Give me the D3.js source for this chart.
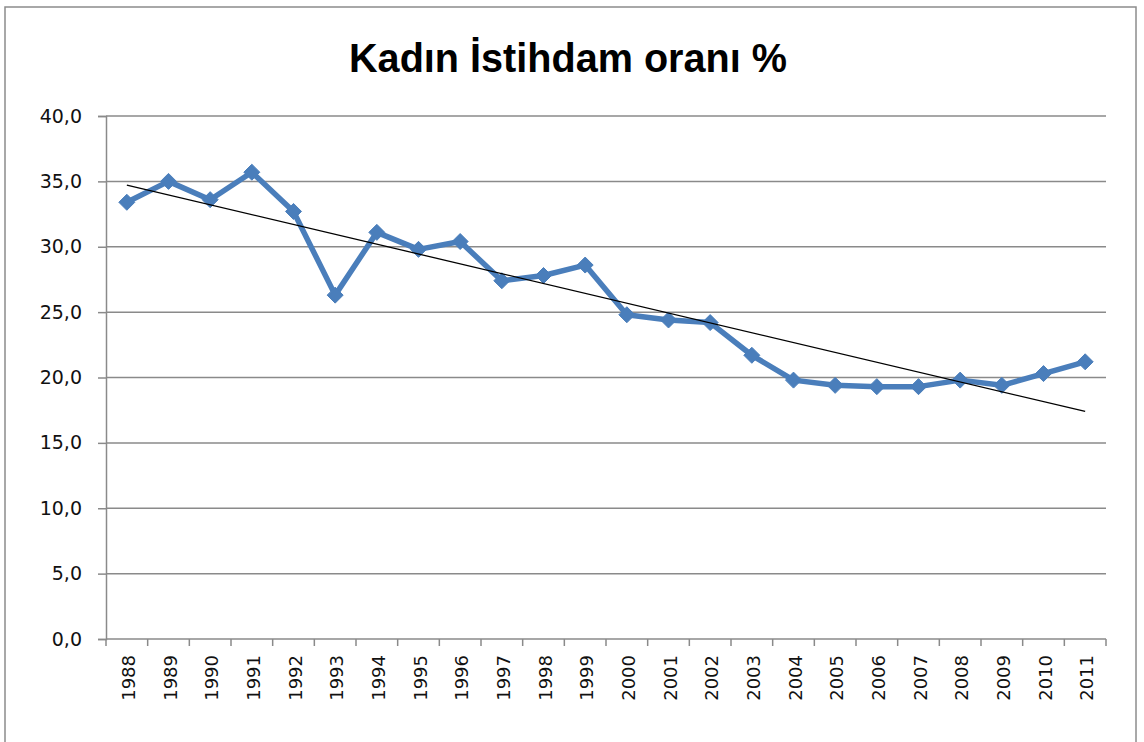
<!DOCTYPE html>
<html><head><meta charset="utf-8">
<script src="https://cdn.jsdelivr.net/npm/d3@7"></script>
<style>body{margin:0;background:#fff;}svg{display:block;}</style>
</head><body>
<script>
const years = ["1988","1989","1990","1991","1992","1993","1994","1995","1996","1997","1998","1999","2000","2001","2002","2003","2004","2005","2006","2007","2008","2009","2010","2011"];
const values = [33.4,35.0,33.6,35.7,32.7,26.3,31.1,29.8,30.4,27.4,27.8,28.6,24.8,24.4,24.2,21.7,19.8,19.4,19.3,19.3,19.8,19.4,20.3,21.2];
const yTicks = [0,5,10,15,20,25,30,35,40];
const title = "Kadın İstihdam oranı %";

const W = 1144, H = 742;
const svg = d3.select("body").append("svg").attr("width", W).attr("height", H);
svg.append("rect").attr("x",5).attr("y",7).attr("width",1131).attr("height",745)
  .attr("fill","#fff").attr("stroke","#8c8c8c").attr("stroke-width",1.5);

const L = 106, R = 1106, T = 116, B = 639;
const x = d3.scaleBand().domain(years).range([L, R]);
const y = d3.scaleLinear().domain([0, 40]).range([B, T]);
const cx = d => x(d) + x.bandwidth()/2;

svg.append("text").attr("x", 568).attr("y", 72).attr("text-anchor","middle")
  .attr("font-family","'Liberation Sans',Arial,sans-serif").attr("font-weight","bold")
  .attr("font-size",41).attr("fill","#000")
  .attr("textLength",438).attr("lengthAdjust","spacingAndGlyphs").text(title);

// gridlines
svg.append("g").selectAll("line").data(yTicks.filter(t=>t>0)).join("line")
  .attr("x1", L).attr("x2", R).attr("y1", d=>y(d)).attr("y2", d=>y(d))
  .attr("stroke","#8a8a8a").attr("stroke-width",1.5);

// y axis
const yAxis = d3.axisLeft(y).tickValues(yTicks).tickSize(8).tickPadding(16)
  .tickFormat(d => d3.format(".1f")(d).replace(".", ","));
const gy = svg.append("g").attr("transform",`translate(${L},0)`).call(yAxis);
gy.select(".domain").attr("stroke","#8a8a8a").attr("stroke-width",1.5);
gy.selectAll(".tick line").attr("stroke","#8a8a8a").attr("stroke-width",1.5);
gy.selectAll("text").attr("font-family","'DejaVu Sans',sans-serif").attr("font-size",19).attr("fill","#111");

// x axis
const gx = svg.append("g").attr("transform",`translate(0,${B})`);
gx.append("line").attr("x1",L).attr("x2",R).attr("stroke","#8a8a8a").attr("stroke-width",1.5);
const edges = years.map(d => x(d)).concat([R]);
gx.selectAll("line.tk").data(edges).join("line").attr("class","tk")
  .attr("x1",d=>d).attr("x2",d=>d).attr("y1",0).attr("y2",7)
  .attr("stroke","#8a8a8a").attr("stroke-width",1.5);
gx.selectAll("text").data(years).join("text")
  .attr("transform", d => `translate(${cx(d)+8},${16}) rotate(-90)`)
  .attr("text-anchor","end").attr("font-family","'DejaVu Sans',sans-serif")
  .attr("font-size",18).attr("fill","#111").text(d=>d);

// data line
const line = d3.line().x((d,i)=>cx(years[i])).y(d=>y(d));
svg.append("path").datum(values).attr("d", line).attr("fill","none")
  .attr("stroke","#4a7ebb").attr("stroke-width",5.5).attr("stroke-linejoin","round");

// diamond markers
const r = 8;
const diamond = `M0,${-r}L${r},0L0,${r}L${-r},0Z`;
svg.append("g").selectAll("path").data(values).join("path")
  .attr("transform",(d,i)=>`translate(${cx(years[i])},${y(d)})`)
  .attr("d", diamond).attr("fill","#4a7ebb").attr("stroke","#4a7ebb").attr("stroke-width",1);

// linear trendline (least squares on the data)
const n = values.length;
const xs = d3.range(n);
const mx = d3.mean(xs), my = d3.mean(values);
const slope = d3.sum(xs.map((v,i)=>(v-mx)*(values[i]-my))) / d3.sum(xs.map(v=>(v-mx)*(v-mx)));
const icpt = my - slope*mx;
svg.append("line")
  .attr("x1", cx(years[0])).attr("y1", y(icpt))
  .attr("x2", cx(years[n-1])).attr("y2", y(icpt + slope*(n-1)))
  .attr("stroke","#000").attr("stroke-width",1.3);
</script>
</body></html>
